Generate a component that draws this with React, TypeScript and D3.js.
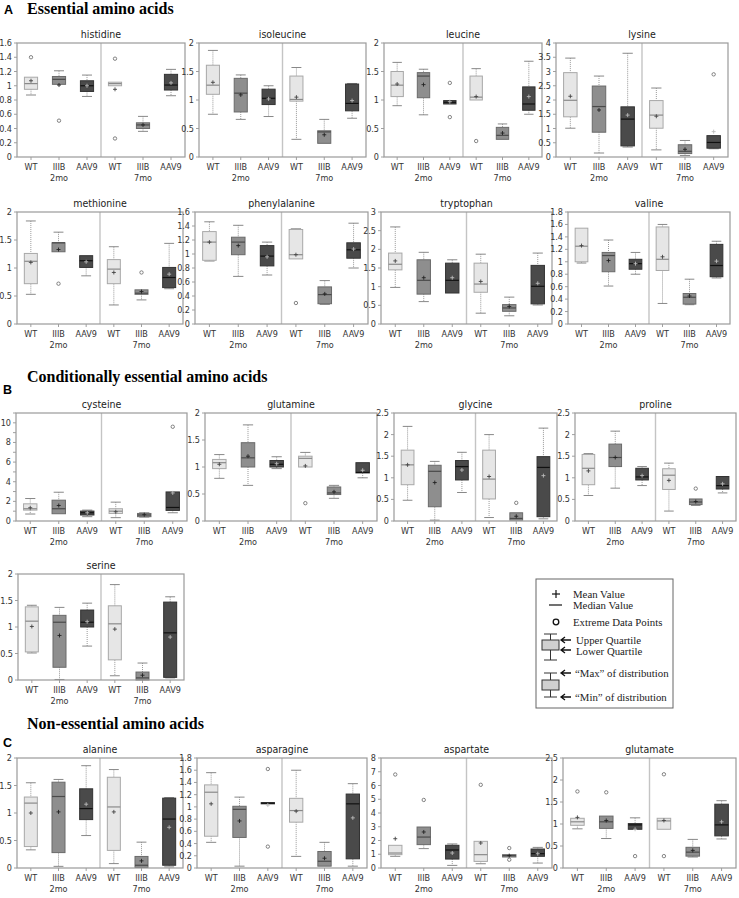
import React from "react";
import * as d3 from "d3";

// ---------- categories ----------
const groupLabels = ["WT", "IIIB", "AAV9", "WT", "IIIB", "AAV9"];
const groupSubLabels = ["", "2mo", "", "", "7mo", ""];
const groupKind = [0, 1, 2, 0, 1, 2]; // WT, IIIB, AAV9

// ---------- data: rows = [whiskerLow, q1, median, q3, whiskerHigh, mean] ----------
const histidine = [
  [0.87, 0.95, 1.03, 1.12, 1.12, 1.07],
  [1.02, 1.02, 1.09, 1.13, 1.21, 1.01],
  [0.85, 0.92, 1.0, 1.07, 1.15, 1.0],
  [1.0, 1.0, 1.03, 1.05, 1.05, 0.95],
  [0.36, 0.4, 0.45, 0.48, 0.57, 0.45],
  [0.86, 0.94, 1.01, 1.16, 1.23, 1.04],
];
const histidineOut = [[1.4], [0.51], [], [1.38, 0.26], [], []];

const isoleucine = [
  [0.75, 1.1, 1.26, 1.61, 1.87, 1.31],
  [0.66, 0.79, 1.12, 1.38, 1.44, 1.09],
  [0.71, 0.92, 1.03, 1.19, 1.25, 1.02],
  [0.31, 0.98, 1.01, 1.42, 1.57, 1.05],
  [0.24, 0.24, 0.44, 0.46, 0.66, 0.39],
  [0.68, 0.81, 0.94, 1.28, 1.29, 0.99],
];
const isoleucineOut = [[], [], [], [], [], []];

const leucine = [
  [0.9, 1.06, 1.26, 1.5, 1.66, 1.28],
  [0.74, 1.04, 1.42, 1.48, 1.54, 1.27],
  [0.93, 0.93, 0.96, 0.99, 0.99, 0.97],
  [1.0, 1.0, 1.05, 1.42, 1.55, 1.06],
  [0.31, 0.31, 0.38, 0.52, 0.58, 0.42],
  [0.75, 0.82, 0.93, 1.23, 1.68, 1.06],
];
const leucineOut = [[], [], [1.3, 0.7], [0.28], [], []];

const lysine = [
  [1.01, 1.41, 1.99, 2.96, 3.47, 2.13],
  [0.14, 0.87, 1.77, 2.49, 2.84, 1.65],
  [0.35, 0.39, 1.33, 1.76, 3.64, 1.47],
  [0.25, 1.01, 1.47, 1.98, 2.42, 1.43],
  [0.05, 0.12, 0.2, 0.43, 0.58, 0.27],
  [0.29, 0.31, 0.51, 0.75, 0.75, 0.89],
];
const lysineOut = [[], [], [], [], [], [2.9]];

const methionine = [
  [0.53, 0.72, 1.12, 1.26, 1.84, 1.1],
  [1.29, 1.29, 1.45, 1.45, 1.64, 1.33],
  [0.86, 1.01, 1.13, 1.22, 1.22, 1.11],
  [0.34, 0.72, 0.98, 1.15, 1.38, 0.92],
  [0.43, 0.53, 0.55, 0.61, 0.61, 0.58],
  [0.63, 0.65, 0.83, 1.01, 1.44, 0.89],
];
const methionineOut = [[], [0.72], [], [], [0.92], []];

const phenylalanine = [
  [0.9, 0.91, 1.17, 1.32, 1.46, 1.17],
  [0.68, 0.99, 1.17, 1.24, 1.41, 1.12],
  [0.7, 0.83, 0.97, 1.12, 1.17, 0.96],
  [0.93, 0.93, 0.99, 1.35, 1.36, 0.99],
  [0.28, 0.29, 0.42, 0.53, 0.62, 0.43],
  [0.8, 0.94, 1.06, 1.16, 1.44, 1.07],
];
const phenylalanineOut = [[], [], [], [0.3], [], []];

const tryptophan = [
  [0.98, 1.45, 1.6, 1.9, 2.6, 1.69],
  [0.6, 0.8, 1.17, 1.72, 1.92, 1.24],
  [0.83, 0.83, 1.17, 1.63, 1.72, 1.24],
  [0.29, 0.85, 1.07, 1.63, 1.87, 1.14],
  [0.22, 0.34, 0.43, 0.52, 0.72, 0.47],
  [0.51, 0.54, 1.01, 1.57, 1.9, 1.09],
];
const tryptophanOut = [[], [], [], [], [], []];

const valine = [
  [0.98, 1.0, 1.25, 1.54, 1.54, 1.26],
  [0.61, 0.84, 1.1, 1.15, 1.35, 1.02],
  [0.8, 0.88, 0.97, 1.04, 1.15, 0.97],
  [0.33, 0.86, 1.04, 1.56, 1.6, 1.08],
  [0.31, 0.32, 0.43, 0.49, 0.72, 0.45],
  [0.74, 0.76, 0.94, 1.28, 1.33, 1.01],
];
const valineOut = [[], [], [], [], [], []];

const cysteine = [
  [0.71, 1.11, 1.25, 1.75, 2.29, 1.35],
  [0.74, 0.74, 1.25, 2.12, 2.93, 1.58],
  [0.44, 0.61, 0.84, 1.01, 1.11, 0.84],
  [0.34, 0.77, 1.0, 1.25, 1.92, 0.94],
  [0.4, 0.44, 0.61, 0.77, 0.84, 0.64],
  [0.84, 1.08, 1.38, 2.96, 2.96, 2.86],
];
const cysteineOut = [[], [], [], [], [], [9.6]];

const glutamine = [
  [0.79, 0.97, 1.08, 1.14, 1.23, 1.05],
  [0.66, 1.0, 1.17, 1.45, 1.78, 1.2],
  [0.97, 1.0, 1.05, 1.12, 1.19, 1.06],
  [1.0, 1.0, 1.16, 1.2, 1.27, 1.02],
  [0.42, 0.49, 0.52, 0.63, 0.66, 0.54],
  [0.8, 0.89, 0.9, 1.08, 1.08, 0.94],
];
const glutamineOut = [[], [], [], [0.33], [], []];

const glycine = [
  [0.48, 0.84, 1.3, 1.64, 2.19, 1.3],
  [0.02, 0.33, 1.15, 1.29, 1.38, 0.89],
  [0.66, 0.95, 1.26, 1.4, 1.59, 1.18],
  [0.08, 0.51, 0.97, 1.64, 2.0, 1.03],
  [0.02, 0.02, 0.06, 0.19, 0.19, 0.11],
  [0.05, 0.1, 1.24, 1.49, 2.15, 1.05],
];
const glycineOut = [[], [], [], [], [0.42], []];

const proline = [
  [0.59, 0.84, 1.22, 1.54, 1.56, 1.16],
  [0.76, 1.26, 1.47, 1.78, 2.08, 1.47],
  [0.82, 0.95, 1.02, 1.22, 1.26, 1.05],
  [0.23, 0.73, 1.06, 1.21, 1.34, 0.94],
  [0.36, 0.38, 0.44, 0.51, 0.51, 0.45],
  [0.65, 0.74, 0.82, 1.03, 1.03, 0.86],
];
const prolineOut = [[], [], [], [], [0.75], []];

const serine = [
  [0.51, 0.53, 1.11, 1.38, 1.41, 1.01],
  [0.01, 0.24, 1.09, 1.22, 1.37, 0.84],
  [0.64, 1.0, 1.09, 1.32, 1.45, 1.1],
  [0.08, 0.38, 1.06, 1.4, 1.8, 0.96],
  [0.0, 0.0, 0.04, 0.15, 0.32, 0.09],
  [0.04, 0.05, 0.89, 1.47, 1.57, 0.81],
];
const serineOut = [[], [], [], [], [], []];

const alanine = [
  [0.33, 0.39, 1.18, 1.29, 1.55, 1.0],
  [0.03, 0.28, 1.3, 1.56, 1.61, 1.02],
  [0.59, 0.88, 1.08, 1.44, 1.86, 1.16],
  [0.08, 0.32, 1.11, 1.65, 1.79, 1.02],
  [0.01, 0.01, 0.05, 0.21, 0.47, 0.13],
  [0.02, 0.05, 0.89, 1.27, 1.28, 0.74],
];
const alanineOut = [[], [], [], [], [], []];

const asparagine = [
  [0.42, 0.52, 1.24, 1.36, 1.56, 1.05],
  [0.03, 0.5, 0.96, 1.01, 1.16, 0.77],
  [1.05, 1.05, 1.06, 1.07, 1.07, 1.03],
  [0.19, 0.75, 0.94, 1.14, 1.6, 0.93],
  [0.03, 0.03, 0.11, 0.27, 0.42, 0.16],
  [0.03, 0.15, 1.05, 1.21, 1.38, 0.82],
];
const asparagineOut = [[], [], [1.62, 0.35], [], [], []];

const aspartate = [
  [0.85, 0.97, 1.09, 1.65, 1.65, 2.13],
  [1.41, 1.7, 2.25, 2.98, 2.98, 2.62],
  [0.19, 0.65, 1.31, 1.65, 1.75, 1.09],
  [0.31, 0.48, 0.97, 1.94, 1.94, 1.82],
  [0.8, 0.8, 0.9, 0.97, 0.97, 0.9],
  [0.36, 0.85, 1.04, 1.38, 1.5, 1.04],
];
const aspartateOut = [[6.8], [4.95], [], [6.05], [1.45, 0.6], []];

const glutamate = [
  [0.89, 0.97, 1.05, 1.13, 1.13, 1.15],
  [0.67, 0.9, 1.05, 1.18, 1.18, 1.08],
  [0.88, 0.88, 0.98, 1.01, 1.14, 0.88],
  [0.88, 0.88, 1.07, 1.13, 1.13, 1.08],
  [0.25, 0.27, 0.36, 0.47, 0.65, 0.4],
  [0.66, 0.73, 0.98, 1.45, 1.53, 1.05],
];
const glutamateOut = [[1.74], [1.72], [0.27], [2.13, 0.27], [], []];

// ---------- axis ranges: [max, label step, minor step] ----------
const axes: Record<string, number[]> = {
  histidine: [1.6, 0.2, 0.2],
  isoleucine: [2, 0.5, 0.5],
  leucine: [2, 0.5, 0.5],
  lysine: [4, 0.5, 0.5],
  methionine: [2, 0.5, 0.5],
  phenylalanine: [1.6, 0.2, 0.2],
  tryptophan: [3, 0.5, 0.5],
  valine: [1.8, 0.2, 0.2],
  cysteine: [11, 2, 1],
  glutamine: [2, 0.5, 0.5],
  glycine: [2.5, 0.5, 0.5],
  proline: [2.5, 0.5, 0.5],
  serine: [2, 0.5, 0.5],
  alanine: [2, 0.5, 0.5],
  asparagine: [1.8, 0.2, 0.2],
  aspartate: [8, 1, 1],
  glutamate: [2.5, 0.5, 0.5],
};

const dataByName: Record<string, [number[][], number[][]]> = {
  histidine: [histidine, histidineOut],
  isoleucine: [isoleucine, isoleucineOut],
  leucine: [leucine, leucineOut],
  lysine: [lysine, lysineOut],
  methionine: [methionine, methionineOut],
  phenylalanine: [phenylalanine, phenylalanineOut],
  tryptophan: [tryptophan, tryptophanOut],
  valine: [valine, valineOut],
  cysteine: [cysteine, cysteineOut],
  glutamine: [glutamine, glutamineOut],
  glycine: [glycine, glycineOut],
  proline: [proline, prolineOut],
  serine: [serine, serineOut],
  alanine: [alanine, alanineOut],
  asparagine: [asparagine, asparagineOut],
  aspartate: [aspartate, aspartateOut],
  glutamate: [glutamate, glutamateOut],
};

// ---------- layout (positions only) ----------
const layout: [string, number, number, number, number][] = [
  ["histidine", 17, 185, 43, 157],
  ["isoleucine", 199, 366, 43, 157],
  ["leucine", 384, 542, 43, 157],
  ["lysine", 556, 728, 43, 157],
  ["methionine", 17, 183, 212, 324],
  ["phenylalanine", 195, 368, 212, 324],
  ["tryptophan", 381, 552, 212, 324],
  ["valine", 568, 730, 212, 324],
  ["cysteine", 16, 187, 413, 521],
  ["glutamine", 205, 377, 413, 521],
  ["glycine", 394, 557, 413, 521],
  ["proline", 575, 736, 413, 521],
  ["serine", 18, 184, 574, 680],
  ["alanine", 17, 183, 758, 868],
  ["asparagine", 197, 367, 758, 868],
  ["aspartate", 381, 552, 758, 868],
  ["glutamate", 563, 736, 758, 868],
];

const FILL = ["#e6e6e6", "#8e8e8e", "#4a4a4a"];
const STROKE = ["#a8a8a8", "#6a6a6a", "#333333"];
const MEDIAN = ["#8a8a8a", "#4a4a4a", "#111111"];
const MEAN = ["#444", "#222", "#bbb"];
const SANS = "'Liberation Sans Narrow', 'DejaVu Sans Condensed', 'Arial Narrow', Arial, sans-serif";
const SERIF = "'Liberation Serif', 'Times New Roman', serif";

function fmt(v: number) {
  return String(Math.round(v * 100) / 100);
}

function Panel({ name, x0, x1, top, bottom }: { name: string; x0: number; x1: number; top: number; bottom: number }) {
  const [stats, outs] = dataByName[name];
  const [yMax, step, minor] = axes[name];
  const x = d3.scaleBand<number>().domain(d3.range(6)).range([x0, x1]);
  const y = d3.scaleLinear().domain([0, yMax]).range([bottom, top]);
  const bw = x.bandwidth();
  const w = Math.min(bw * 0.47, 14);
  const cap = w * 0.38;
  const labelTicks = d3.range(0, yMax + 1e-6, step).map((v) => Math.round(v * 100) / 100);
  const minorTicks = d3.range(0, yMax + 1e-6, minor).map((v) => Math.round(v * 100) / 100);
  const sep = x(3)!;
  return (
    <g>
      <text x={(x0 + x1) / 2} y={top - 5} textAnchor="middle" fontFamily={SANS} fontSize={10.5} fill="#222">
        {name}
      </text>
      {minorTicks.map((t, i) => (
        <line key={"mt" + i} x1={x0 - 3} x2={x0} y1={y(t)} y2={y(t)} stroke="#888" strokeWidth={0.8} />
      ))}
      {labelTicks.map((t, i) => (
        <text key={"yt" + i} x={x0 - 5} y={y(t) + 3} textAnchor="end" fontFamily={SANS} fontSize={9} fill="#333">
          {fmt(t)}
        </text>
      ))}
      <line x1={sep} x2={sep} y1={top} y2={bottom} stroke="#c4c4c4" strokeWidth={1.4} />
      {stats.map((s, i) => {
        const cx = x(i)! + bw / 2;
        const k = groupKind[i];
        const [lo, q1, med, q3, hi, mean] = s;
        return (
          <g key={i}>
            <line x1={cx} x2={cx} y1={bottom} y2={bottom + 3} stroke="#888" strokeWidth={0.8} />
            {hi > q3 && (
              <g>
                <line x1={cx} x2={cx} y1={y(hi)} y2={y(q3)} stroke="#999" strokeWidth={1} strokeDasharray="1,1" />
                <line x1={cx - cap} x2={cx + cap} y1={y(hi)} y2={y(hi)} stroke="#888" strokeWidth={1} />
              </g>
            )}
            {lo < q1 && (
              <g>
                <line x1={cx} x2={cx} y1={y(q1)} y2={y(lo)} stroke="#999" strokeWidth={1} strokeDasharray="1,1" />
                <line x1={cx - cap} x2={cx + cap} y1={y(lo)} y2={y(lo)} stroke="#888" strokeWidth={1} />
              </g>
            )}
            <rect
              x={cx - w / 2}
              y={y(q3)}
              width={w}
              height={Math.max(1, y(q1) - y(q3))}
              fill={FILL[k]}
              stroke={STROKE[k]}
              strokeWidth={1}
            />
            <line x1={cx - w / 2} x2={cx + w / 2} y1={y(med)} y2={y(med)} stroke={MEDIAN[k]} strokeWidth={1.2} />
            <line x1={cx - 2} x2={cx + 2} y1={y(mean)} y2={y(mean)} stroke={MEAN[k]} strokeWidth={0.9} />
            <line x1={cx} x2={cx} y1={y(mean) - 2} y2={y(mean) + 2} stroke={MEAN[k]} strokeWidth={0.9} />
            {outs[i].map((o, j) => (
              <circle key={j} cx={cx} cy={y(o)} r={1.7} fill="#fff" stroke="#666" strokeWidth={0.8} />
            ))}
            <text x={cx} y={bottom + 13} textAnchor="middle" fontFamily={SANS} fontSize={9} fill="#333">
              {groupLabels[i]}
            </text>
            {groupSubLabels[i] && (
              <text x={cx} y={bottom + 24} textAnchor="middle" fontFamily={SANS} fontSize={9} fill="#333">
                {groupSubLabels[i]}
              </text>
            )}
          </g>
        );
      })}
      <rect x={x0} y={top} width={x1 - x0} height={bottom - top} fill="none" stroke="#9a9a9a" strokeWidth={1.2} />
    </g>
  );
}

function Legend() {
  const lx = 536, ly = 579;
  const tx = 573;
  return (
    <g fontFamily={SERIF} fontSize={10.8} fill="#222">
      <rect x={lx} y={ly} width={137} height={129} fill="#fff" stroke="#666" strokeWidth={1} />
      <line x1={552} x2={560} y1={594} y2={594} stroke="#111" strokeWidth={1.2} />
      <line x1={556} x2={556} y1={590} y2={598} stroke="#111" strokeWidth={1.2} />
      <text x={tx} y={598}>Mean Value</text>
      <line x1={549} x2={562} y1={605} y2={605} stroke="#111" strokeWidth={1.2} />
      <text x={tx} y={609}>Median Value</text>
      <circle cx={556} cy={622} r={2.8} fill="none" stroke="#111" strokeWidth={1.3} />
      <text x={tx} y={626}>Extreme Data Points</text>
      {/* quartile icon */}
      <line x1={544} x2={557} y1={634} y2={634} stroke="#333" />
      <line x1={550.5} x2={550.5} y1={634} y2={640} stroke="#333" />
      <rect x={542} y={640} width={17} height={10} fill="#d0d0d0" stroke="#333" />
      <line x1={550.5} x2={550.5} y1={650} y2={660} stroke="#333" />
      <line x1={544} x2={557} y1={660} y2={660} stroke="#333" />
      <path d="M571,640 L561,640 M565,637 L561,640 L565,643" fill="none" stroke="#111" strokeWidth={1.3} />
      <path d="M571,650 L561,650 M565,647 L561,650 L565,653" fill="none" stroke="#111" strokeWidth={1.3} />
      <text x={576} y={644}>Upper Quartile</text>
      <text x={576} y={655}>Lower Quartile</text>
      {/* min/max icon */}
      <line x1={544} x2={557} y1={673} y2={673} stroke="#333" />
      <line x1={550.5} x2={550.5} y1={673} y2={680} stroke="#333" />
      <rect x={542} y={680} width={17} height={10} fill="#d0d0d0" stroke="#333" />
      <line x1={550.5} x2={550.5} y1={690} y2={697} stroke="#333" />
      <line x1={544} x2={557} y1={697} y2={697} stroke="#333" />
      <path d="M571,673 L561,673 M565,670 L561,673 L565,676" fill="none" stroke="#111" strokeWidth={1.3} />
      <path d="M571,697 L561,697 M565,694 L561,697 L565,700" fill="none" stroke="#111" strokeWidth={1.3} />
      <text x={575} y={677}>“Max” of distribution</text>
      <text x={575} y={701}>“Min”  of distribution</text>
    </g>
  );
}

export default function App() {
  return (
    <svg
      width={739}
      height={898}
      style={{ position: "absolute", left: 0, top: 0, background: "#fff" }}
    >
      <rect x={0} y={0} width={739} height={898} fill="#fff" />
      <text x={4} y={13.5} fontFamily="'Liberation Sans', Arial, sans-serif" fontWeight="bold" fontSize={12.5}>A</text>
      <text x={27} y={13.5} fontFamily={SERIF} fontWeight="bold" fontSize={16}>Essential amino acids</text>
      <text x={27} y={382} fontFamily={SERIF} fontWeight="bold" fontSize={16}>Conditionally essential amino acids</text>
      <text x={3} y={394} fontFamily="'Liberation Sans', Arial, sans-serif" fontWeight="bold" fontSize={12.5}>B</text>
      <text x={27} y={729} fontFamily={SERIF} fontWeight="bold" fontSize={16}>Non-essential amino acids</text>
      <text x={3} y={747} fontFamily="'Liberation Sans', Arial, sans-serif" fontWeight="bold" fontSize={12.5}>C</text>
      {layout.map(([name, x0, x1, top, bottom]) => (
        <Panel key={name} name={name} x0={x0} x1={x1} top={top} bottom={bottom} />
      ))}
      <Legend />
    </svg>
  );
}
